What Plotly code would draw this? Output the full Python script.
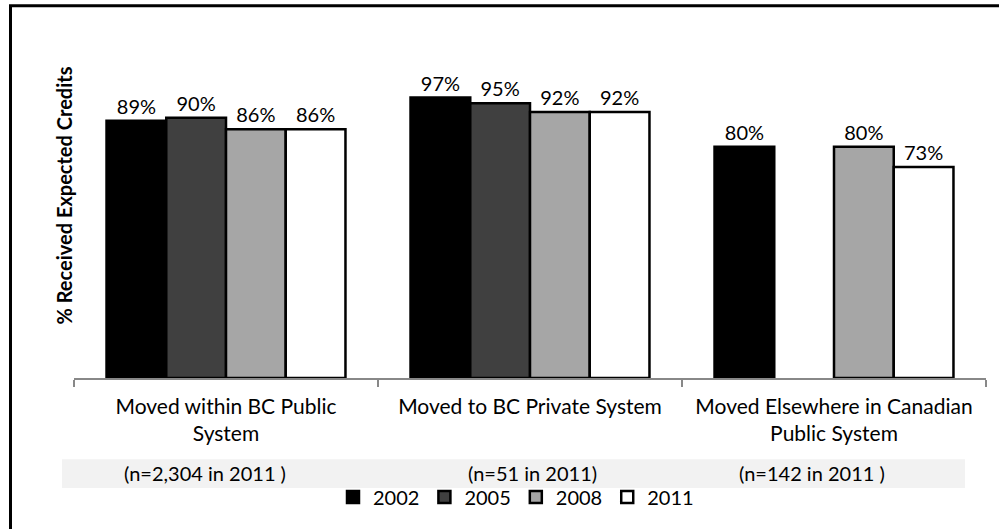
import plotly.graph_objects as go

# Categories (tick labels) and sample sizes
categories = [
    "Moved within BC Public<br>System",
    "Moved to BC Private System",
    "Moved Elsewhere in Canadian<br>Public System",
]
sample_sizes = ["(n=2,304 in 2011 )", "(n=51 in 2011)", "(n=142 in 2011 )"]

# % received expected credits, by cohort year
years = ["2002", "2005", "2008", "2011"]
pct_2002 = [89, 97, 80]
pct_2005 = [90, 95, None]
pct_2008 = [86, 92, 80]
pct_2011 = [86, 92, 73]

series = [pct_2002, pct_2005, pct_2008, pct_2011]
fills = ["#000000", "#404040", "#A6A6A6", "#FFFFFF"]

FONT = "Lato"
W, H = 999, 529
# plot area in pixels
L, R, T, B = 74, 13, 31, 148
PW = W - L - R
PH = H - T - B


def px_x(px):
    return (px - L) / PW


def px_y(py):
    return (H - B - py) / PH


fig = go.Figure()
for year, vals, col in zip(years, series, fills):
    fig.add_trace(go.Bar(
        name=year,
        x=categories,
        y=vals,
        text=["" if v is None else f"{v}%" for v in vals],
        textposition="outside",
        textfont=dict(family=FONT, size=20, color="#000000"),
        cliponaxis=False,
        constraintext="none",
        marker=dict(color=col, line=dict(color="#000000", width=2.5)),
    ))

# band behind the sample-size row
shapes = [
    dict(type="rect", xref="paper", yref="paper",
         x0=px_x(62), x1=px_x(965), y0=px_y(492), y1=px_y(463),
         fillcolor="#F2F2F2", line=dict(width=0), layer="below"),
    # chart frame
    dict(type="rect", xref="paper", yref="paper",
         x0=px_x(10.5), x1=px_x(1010), y0=px_y(540), y1=px_y(5.5),
         fillcolor="rgba(0,0,0,0)", line=dict(color="#000000", width=3)),
]

annotations = [
    dict(text="% Received Expected Credits", xref="paper", yref="paper",
         x=px_x(64), y=px_y(197), textangle=-90, showarrow=False,
         xanchor="center", yanchor="middle",
         font=dict(family=FONT, size=20, color="#000000", weight="bold")),
]
for cx, label in zip([205, 532, 812], sample_sizes):
    annotations.append(dict(
        text=label, xref="paper", yref="paper", x=px_x(cx), y=px_y(477),
        showarrow=False, xanchor="center", yanchor="middle",
        font=dict(family=FONT, size=20, color="#000000")))

fig.update_layout(
    width=W, height=H,
    margin=dict(l=L, r=R, t=T, b=B),
    paper_bgcolor="#FFFFFF", plot_bgcolor="#FFFFFF",
    barmode="group", bargap=0.214, bargroupgap=0,
    font=dict(family=FONT, size=20, color="#000000"),
    showlegend=True,
    legend=dict(orientation="h", x=px_x(516), y=px_y(501),
                xanchor="center", yanchor="middle",
                font=dict(family=FONT, size=20, color="#000000"),
                itemwidth=30, traceorder="normal", tracegroupgap=0,
                bgcolor="rgba(0,0,0,0)"),
    xaxis=dict(showline=True, linecolor="#888888", linewidth=1.5,
               ticks="outside", tickson="boundaries", ticklen=7,
               tickcolor="#888888", tickwidth=1.5,
               tickfont=dict(family=FONT, size=21, color="#000000"),
               ticklabelstandoff=9, showgrid=False, zeroline=False),
    yaxis=dict(range=[0, 120], visible=False, showgrid=False),
    shapes=shapes,
    annotations=annotations,
)

fig.write_html("out.html")
